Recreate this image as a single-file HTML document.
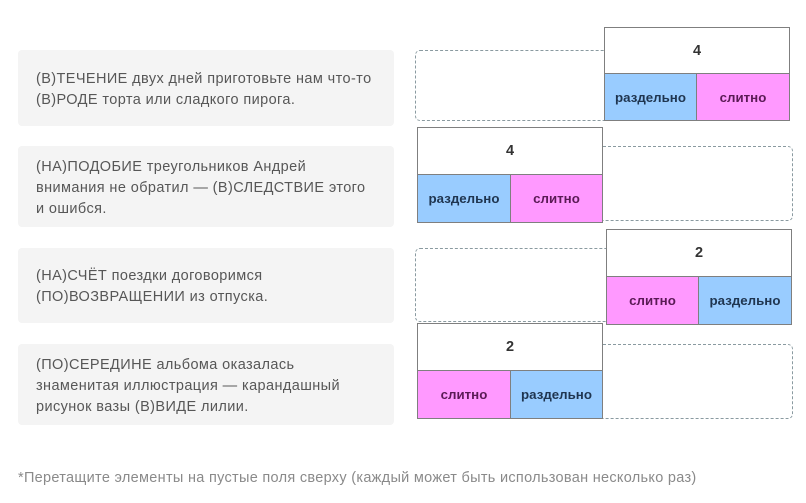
<!DOCTYPE html>
<html><head><meta charset="utf-8">
<style>
html,body{margin:0;padding:0;background:#fff;}
body{width:806px;height:503px;position:relative;overflow:hidden;font-family:"Liberation Sans","DejaVu Sans",sans-serif;}
.q{position:absolute;left:18px;width:376px;background:#f4f4f4;border-radius:4px;display:flex;align-items:center;box-sizing:border-box;padding-left:18px;padding-top:3px;color:#575757;font-size:14.5px;letter-spacing:0.4px;line-height:21px;white-space:nowrap;}
.d{position:absolute;border:1px dashed #8a9aa0;border-radius:5px;box-sizing:border-box;}
.c{position:absolute;border:1.5px solid #7f7f7f;box-sizing:border-box;background:#fff;}
.c .t{position:absolute;left:0;right:0;top:0;text-align:center;font-weight:bold;color:#333;font-size:14.5px;}
.c .b,.c .p{position:absolute;bottom:0;text-align:center;font-weight:bold;font-size:13.3px;box-sizing:border-box;}
.c .b{background:#99ccff;color:#1f3550;}
.c .p{background:#ff99ff;color:#5a1a55;}
.foot{position:absolute;left:18px;top:470px;color:#8a8a8a;font-size:14.5px;letter-spacing:0.3px;white-space:nowrap;}
</style></head><body>

<div class="q" style="top:50px;height:76px;">(В)ТЕЧЕНИЕ двух дней приготовьте нам что-то<br>(В)РОДЕ торта или сладкого пирога.</div>
<div class="q" style="top:146px;height:81px;">(НА)ПОДОБИЕ треугольников Андрей<br>внимания не обратил — (В)СЛЕДСТВИЕ этого<br>и ошибся.</div>
<div class="q" style="top:248px;height:75px;">(НА)СЧЁТ поездки договоримся<br>(ПО)ВОЗВРАЩЕНИИ из отпуска.</div>
<div class="q" style="top:344px;height:81px;">(ПО)СЕРЕДИНЕ альбома оказалась<br>знаменитая иллюстрация — карандашный<br>рисунок вазы (В)ВИДЕ лилии.</div>

<!-- dashed slots -->
<div class="d" style="left:415px;top:50px;width:200px;height:71px;"></div>
<div class="d" style="left:598px;top:146px;width:195px;height:75px;"></div>
<div class="d" style="left:415px;top:248px;width:200px;height:74px;"></div>
<div class="d" style="left:598px;top:344px;width:195px;height:75px;"></div>

<!-- card 1 -->
<div class="c" style="left:604px;top:27px;width:186px;height:94px;">
  <div class="t" style="height:46px;line-height:46px;">4</div>
  <div class="b" style="left:0;width:92px;height:47px;line-height:47px;border-top:1px solid #7f7f7f;border-right:1px solid #7f7f7f;">раздельно</div>
  <div class="p" style="left:92px;right:0;height:47px;line-height:47px;border-top:1px solid #7f7f7f;">слитно</div>
</div>

<!-- card 2 -->
<div class="c" style="left:417px;top:127px;width:186px;height:96px;">
  <div class="t" style="height:47px;line-height:47px;">4</div>
  <div class="b" style="left:0;width:93px;height:48px;line-height:48px;border-top:1px solid #7f7f7f;border-right:1px solid #7f7f7f;">раздельно</div>
  <div class="p" style="left:93px;right:0;height:48px;line-height:48px;border-top:1px solid #7f7f7f;">слитно</div>
</div>

<!-- card 3 -->
<div class="c" style="left:606px;top:229px;width:186px;height:96px;">
  <div class="t" style="height:47px;line-height:47px;">2</div>
  <div class="p" style="left:0;width:92px;height:48px;line-height:48px;border-top:1px solid #7f7f7f;border-right:1px solid #7f7f7f;">слитно</div>
  <div class="b" style="left:92px;right:0;height:48px;line-height:48px;border-top:1px solid #7f7f7f;">раздельно</div>
</div>

<!-- card 4 -->
<div class="c" style="left:417px;top:323px;width:186px;height:96px;">
  <div class="t" style="height:47px;line-height:47px;">2</div>
  <div class="p" style="left:0;width:93px;height:48px;line-height:48px;border-top:1px solid #7f7f7f;border-right:1px solid #7f7f7f;">слитно</div>
  <div class="b" style="left:93px;right:0;height:48px;line-height:48px;border-top:1px solid #7f7f7f;">раздельно</div>
</div>

<div class="foot">*Перетащите элементы на пустые поля сверху (каждый может быть использован несколько раз)</div>
</body></html>
